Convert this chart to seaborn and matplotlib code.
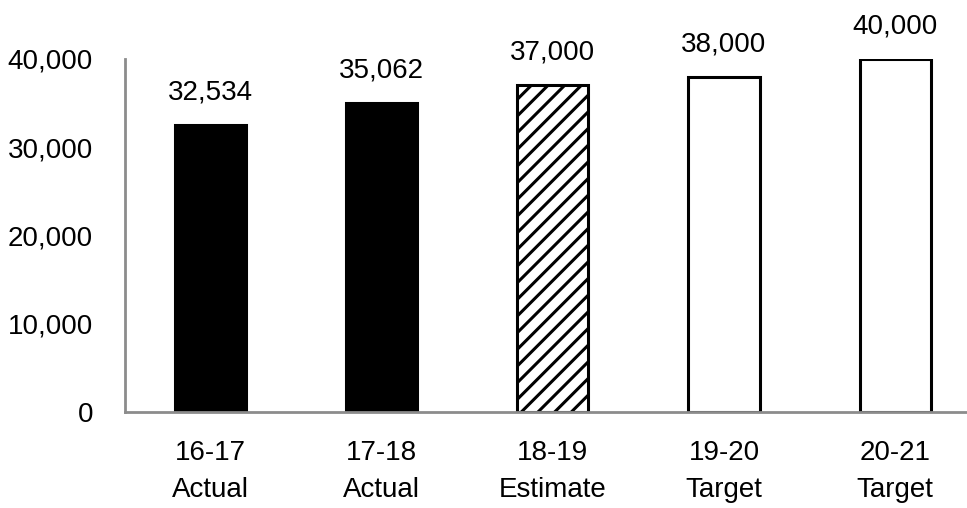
import matplotlib
matplotlib.use("Agg")
import matplotlib.pyplot as plt
import seaborn as sns

# chart data
periods = ["16-17\nActual", "17-18\nActual", "18-19\nEstimate", "19-20\nTarget", "20-21\nTarget"]
counts = [32534, 35062, 37000, 38000, 40000]
y_ticks = [0, 10000, 20000, 30000, 40000]

sns.set_style("white")
plt.rcParams["font.family"] = ["Liberation Sans", "DejaVu Sans"]
plt.rcParams["hatch.linewidth"] = 2.2
plt.rcParams["text.color"] = "black"
plt.rcParams["xtick.color"] = "black"
plt.rcParams["ytick.color"] = "black"

fig = plt.figure(figsize=(9.67, 5.08), dpi=100)
ax = fig.add_axes([0.1293, 0.189, 0.8707, 0.695])

sns.barplot(x=periods, y=counts, ax=ax, width=0.415, color="black", saturation=1)

# bar looks: solid actuals, hatched estimate, open targets
looks = [("black", None), ("black", None), ("white", "//"), ("white", None), ("white", None)]
for patch, (face, hatch) in zip(ax.patches, looks):
    patch.set_facecolor(face)
    patch.set_edgecolor("black")
    patch.set_linewidth(2.2)
    if hatch:
        patch.set_hatch(hatch)

ax.bar_label(ax.containers[0], labels=[f"{v:,}" for v in counts], padding=14,
             fontsize=20, color="black")

ax.set_ylim(0, 40000)
ax.set_xlim(-0.5, 4.42)
ax.set_yticks(y_ticks)
ax.set_yticklabels([f"{v:,}" for v in y_ticks])
ax.tick_params(axis="y", length=0, pad=23, labelsize=20, labelcolor="black")
ax.tick_params(axis="x", length=0, pad=20, labelsize=20, labelcolor="black")
for lbl in ax.get_xticklabels():
    lbl.set_linespacing(1.55)

for side in ["top", "right"]:
    ax.spines[side].set_visible(False)
for side in ["left", "bottom"]:
    ax.spines[side].set_color("#8c8c8c")
    ax.spines[side].set_linewidth(2)

fig.savefig("out.png", dpi=100)
